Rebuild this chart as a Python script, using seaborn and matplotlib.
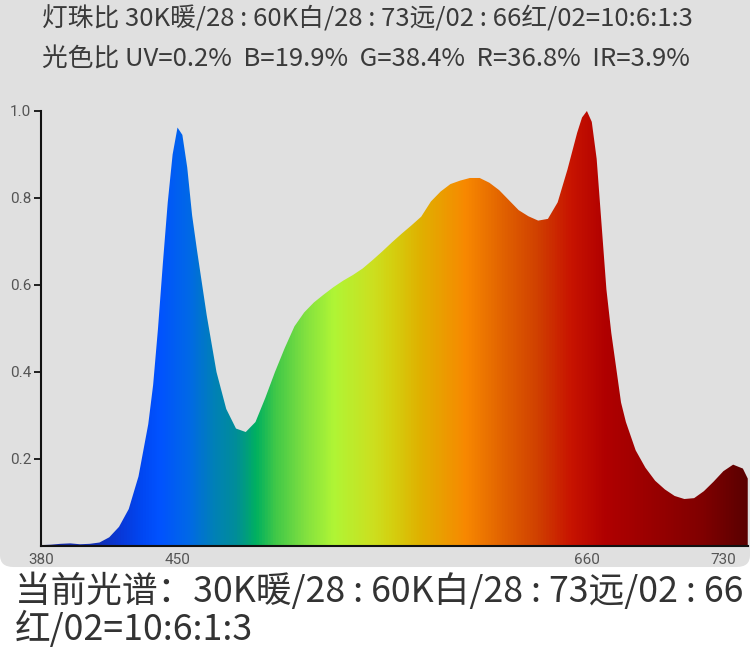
import numpy as np
import matplotlib
matplotlib.use("Agg")
import matplotlib.pyplot as plt
import seaborn as sns
from matplotlib.colors import LinearSegmentedColormap, Normalize
from matplotlib.patches import FancyBboxPatch

# spectrum (nm, relative intensity)
wavelength = [380, 385, 390, 395, 400, 405, 410, 415, 420, 425, 430, 435, 437.5,
              440, 442.5, 445, 447.5, 450, 452.5, 455, 457.5, 460, 465, 470, 475,
              480, 485, 490, 495, 500, 505, 510, 515, 520, 525, 530, 535, 540,
              545, 550, 555, 560, 565, 570, 575, 580, 585, 590, 595, 600, 605,
              610, 615, 620, 625, 630, 635, 640, 645, 650, 655, 657.5, 660,
              662.5, 665, 667.5, 670, 672.5, 675, 677.5, 680, 685, 690, 695,
              700, 705, 710, 715, 720, 725, 730, 735, 740, 742.5]
intensity = [0.002, 0.003, 0.005, 0.006, 0.004, 0.005, 0.008, 0.02, 0.044, 0.085,
             0.16, 0.28, 0.37, 0.50, 0.65, 0.79, 0.90, 0.962, 0.945, 0.87, 0.76,
             0.68, 0.53, 0.40, 0.315, 0.27, 0.262, 0.285, 0.34, 0.40, 0.455,
             0.505, 0.537, 0.56, 0.578, 0.595, 0.61, 0.623, 0.638, 0.657, 0.677,
             0.698, 0.718, 0.737, 0.757, 0.792, 0.815, 0.832, 0.84, 0.846, 0.846,
             0.835, 0.818, 0.795, 0.772, 0.758, 0.748, 0.752, 0.79, 0.865, 0.95,
             0.985, 1.0, 0.975, 0.89, 0.74, 0.59, 0.49, 0.41, 0.33, 0.285, 0.22,
             0.18, 0.15, 0.13, 0.115, 0.108, 0.11, 0.126, 0.148, 0.172, 0.187,
             0.178, 0.155]

x_ticks = [380, 450, 660, 730]
y_ticks = [0.2, 0.4, 0.6, 0.8, 1.0]

title_line1 = "灯珠比 30K暖/28 : 60K白/28 : 73远/02 : 66红/02=10:6:1:3"
title_line2 = "光色比 UV=0.2%  B=19.9%  G=38.4%  R=36.8%  IR=3.9%"
caption_line1 = "当前光谱：30K暖/28 : 60K白/28 : 73远/02 : 66"
caption_line2 = "红/02=10:6:1:3"

# spectral colour stops for the fill
color_stops = [(380, "#16249a"), (410, "#1030b8"), (420, "#0838d8"), (432, "#0048f4"),
               (440, "#0052ff"), (455, "#0068e8"), (468, "#0080b8"), (480, "#008e98"),
               (490, "#00b060"), (500, "#40c848"), (515, "#80e040"), (530, "#b0f535"),
               (550, "#cce020"), (560, "#d4d010"), (575, "#e0b000"), (598, "#f88800"),
               (618, "#e06000"), (635, "#d04000"), (652, "#c81400"), (670, "#b00000"),
               (695, "#980000"), (720, "#800000"), (742.5, "#5a0000")]

sns.set_theme(style="white")
plt.rcParams["font.family"] = ["Roboto", "Noto Sans CJK SC", "DejaVu Sans"]
cjk = ["Noto Sans CJK SC", "DejaVu Sans"]

lo, hi = wavelength[0], wavelength[-1]
cmap = LinearSegmentedColormap.from_list(
    "spec", [((w - lo) / (hi - lo), c) for w, c in color_stops])

fig = plt.figure(figsize=(7.5, 6.51), dpi=100)
fig.patch.set_facecolor("white")

panel = FancyBboxPatch((0, 0.129), 1, 0.95, boxstyle="round,pad=0,rounding_size=0.018",
                       transform=fig.transFigure, fc="#e0e0e0", ec="none", zorder=0)
fig.add_artist(panel)

ax = fig.add_axes([0.0547, 0.1613, 0.9423, 0.6682])
ax.set_facecolor("none")

fill = ax.fill_between(wavelength, intensity, 0, color="none", lw=0)
grad = np.linspace(lo, hi, 1500)[None, :]
img = ax.imshow(grad, extent=[lo, hi, 0, 1], aspect="auto", origin="lower",
                cmap=cmap, norm=Normalize(lo, hi), interpolation="bilinear")
img.set_clip_path(fill.get_paths()[0], ax.transData)

ax.set_xlim(lo, hi)
ax.set_ylim(0, 1.0)
ax.set_xticks(x_ticks)
ax.set_xticklabels([str(t) for t in x_ticks])
ax.set_yticks(y_ticks)
ax.set_yticklabels([f"{t:.1f}" for t in y_ticks])

sns.despine(ax=ax)
for s in ["left", "bottom"]:
    ax.spines[s].set_color("#111111")
    ax.spines[s].set_linewidth(1.5)
ax.tick_params(axis="y", length=5, width=1.3, color="#111111", labelsize=11,
               labelcolor="#555555", pad=2, left=True)
ax.tick_params(axis="x", length=0, labelsize=11, labelcolor="#555555", pad=5)

fig.text(0.056, 0.971, title_line1, fontsize=18.5, color="#3a3a3a", va="center", family=cjk)
fig.text(0.056, 0.909, title_line2, fontsize=18.5, color="#3a3a3a", va="center", family=cjk)
fig.text(0.02, 0.091, caption_line1, fontsize=25.7, color="#333333", va="center", family=cjk)
fig.text(0.02, 0.033, caption_line2, fontsize=25.7, color="#333333", va="center", family=cjk)

fig.savefig("out.png", dpi=100)
